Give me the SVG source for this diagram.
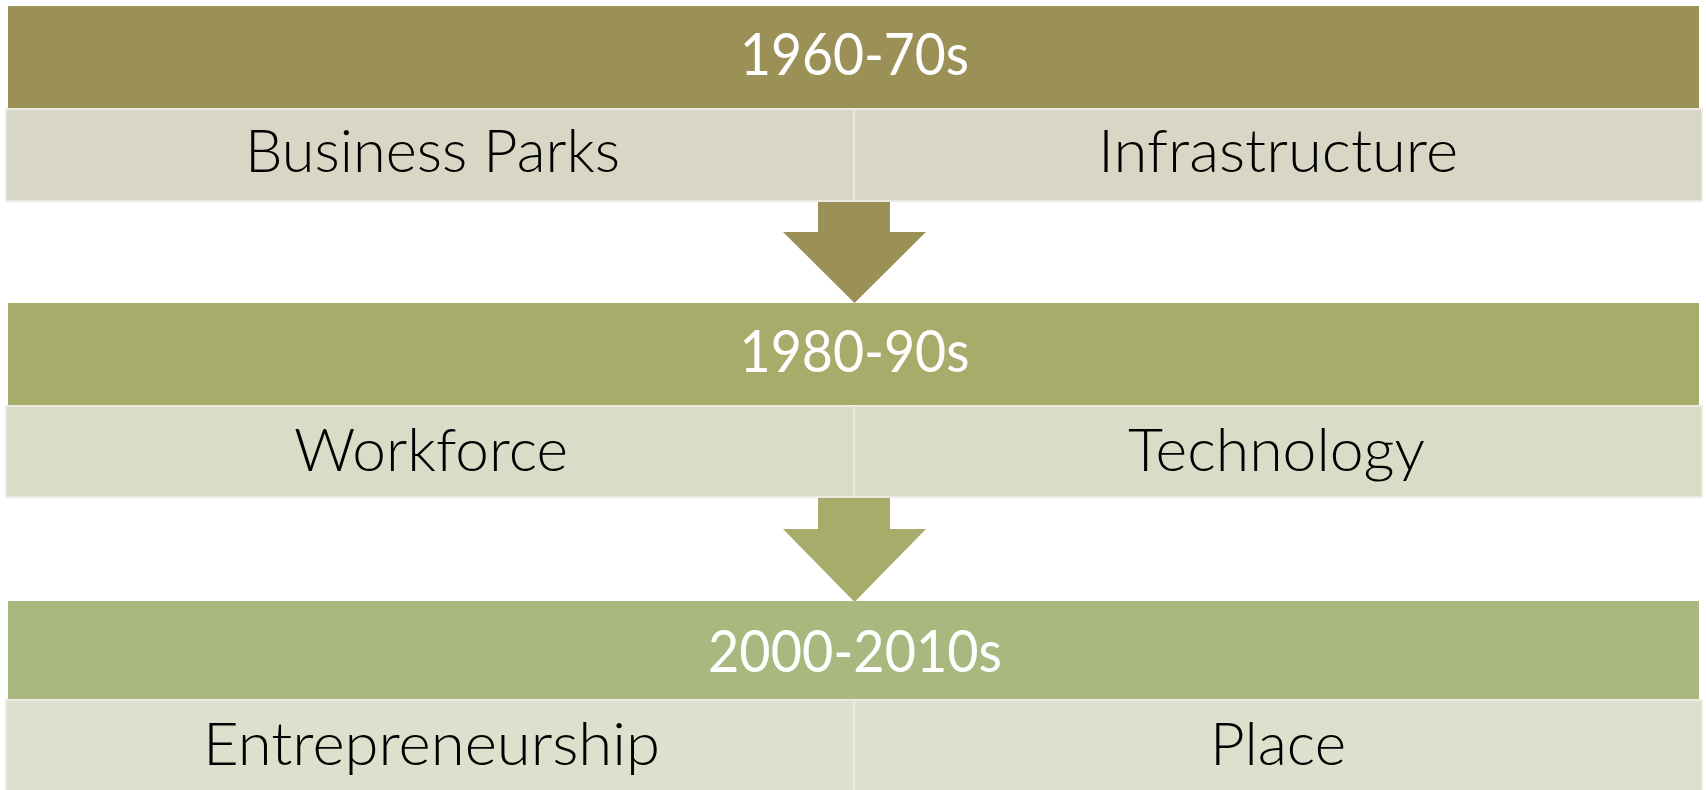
<svg xmlns="http://www.w3.org/2000/svg" width="1706" height="790" viewBox="0 0 1706 790">
<style>
.hdr{font-family:Lato,"Open Sans","Liberation Sans",sans-serif;font-weight:400;font-size:59px;fill:#ffffff;text-anchor:middle}
.cell{font-family:Lato,"Open Sans","Liberation Sans",sans-serif;font-weight:300;font-size:59px;fill:#000000;text-anchor:middle}
.sub{stroke:#ecebe2;stroke-width:2}
</style>
<rect width="1706" height="790" fill="#ffffff"/>
<g id="connectors">
<polygon id="arrow1" points="818,200 890,200 890,232 926,232 854.5,303 783,232 818,232" fill="#9b9156"/>
<polygon id="arrow2" points="818,497 890,497 890,529 926,529 854.5,602 783,529 818,529" fill="#a8ac6a"/>
</g>
<g id="era1">
<rect x="8" y="6" width="1691" height="103" fill="#9b9156"/>
<text class="hdr" x="854.5" y="75" textLength="229" lengthAdjust="spacingAndGlyphs">1960-70s</text>
</g>
<g id="era1-left">
<rect class="sub" x="6" y="109" width="848" height="92" fill="#d8d6c4"/>
<text class="cell" x="432.5" y="172" textLength="375" lengthAdjust="spacingAndGlyphs">Business Parks</text>
</g>
<g id="era1-right">
<rect class="sub" x="854" y="109" width="848" height="92" fill="#d8d6c4"/>
<text class="cell" x="1278" y="172" textLength="360" lengthAdjust="spacingAndGlyphs">Infrastructure</text>
</g>
<g id="era2">
<rect x="8" y="303" width="1691" height="103" fill="#a8ac6a"/>
<text class="hdr" x="854.5" y="372" textLength="230" lengthAdjust="spacingAndGlyphs">1980-90s</text>
</g>
<g id="era2-left">
<rect class="sub" x="6" y="406" width="848" height="91" fill="#dbdcc8"/>
<text class="cell" x="431" y="471" textLength="274" lengthAdjust="spacingAndGlyphs">Workforce</text>
</g>
<g id="era2-right">
<rect class="sub" x="854" y="406" width="848" height="91" fill="#dbdcc8"/>
<text class="cell" x="1276.5" y="471" textLength="297" lengthAdjust="spacingAndGlyphs">Technology</text>
</g>
<g id="era3">
<rect x="8" y="601" width="1691" height="99" fill="#a8b87f"/>
<text class="hdr" x="855" y="672" textLength="294" lengthAdjust="spacingAndGlyphs">2000-2010s</text>
</g>
<g id="era3-left">
<rect class="sub" x="6" y="700" width="848" height="92" fill="#dce0cc"/>
<text class="cell" x="431.5" y="765" textLength="457" lengthAdjust="spacingAndGlyphs">Entrepreneurship</text>
</g>
<g id="era3-right">
<rect class="sub" x="854" y="700" width="848" height="92" fill="#dce0cc"/>
<text class="cell" x="1278" y="765" textLength="136" lengthAdjust="spacingAndGlyphs">Place</text>
</g>
</svg>
